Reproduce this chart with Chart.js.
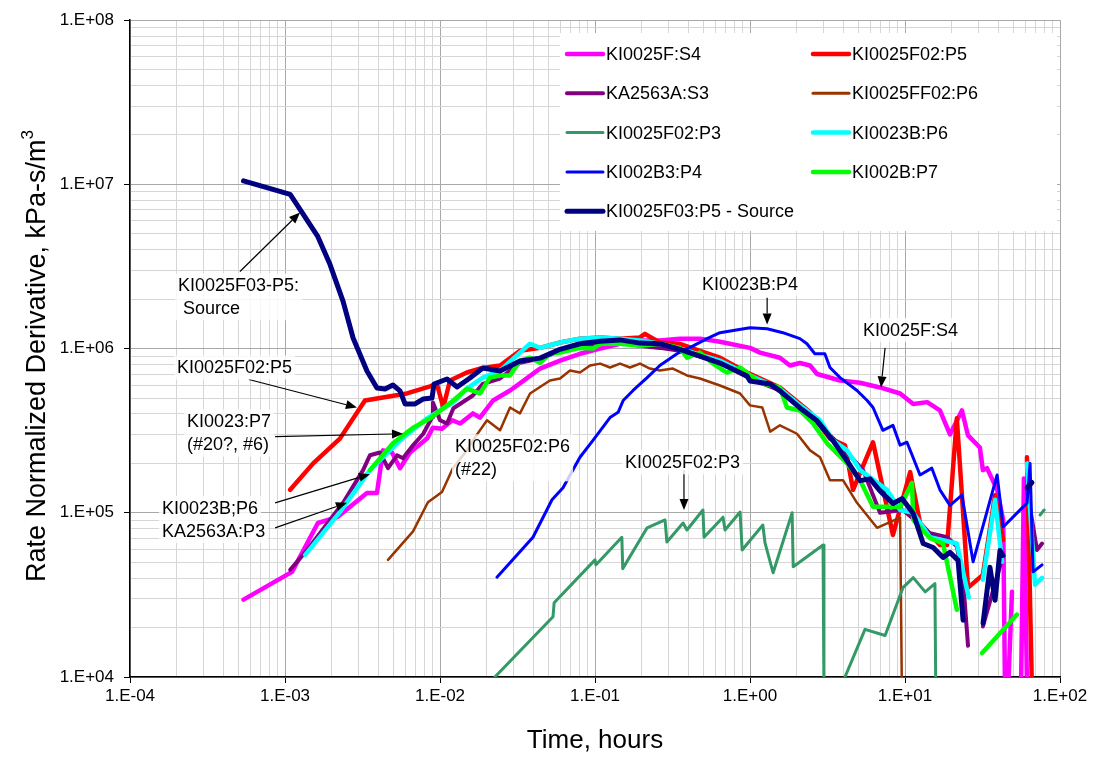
<!DOCTYPE html>
<html>
<head>
<meta charset="utf-8">
<script src="https://cdn.jsdelivr.net/npm/chart.js@4/dist/chart.umd.min.js"></script>
<style>
  html, body { margin: 0; background: #fff; }
  #wrap { width: 1096px; height: 758px; }
</style>
</head>
<body>
<div id="wrap"><canvas id="chart" width="1096" height="758"></canvas></div>
<script>
// series names, in legend order
const seriesNames = ['KI0025F:S4', 'KI0025F02:P5', 'KA2563A:S3', 'KI0025FF02:P6', 'KI0025F02:P3',
  'KI0023B:P6', 'KI002B3:P4', 'KI002B:P7', 'KI0025F03:P5 - Source'];

// tick labels (decades only)
const xTickLabels = ['1.E-04', '1.E-03', '1.E-02', '1.E-01', '1.E+00', '1.E+01', '1.E+02'];
const yTickLabels = ['1.E+04', '1.E+05', '1.E+06', '1.E+07', '1.E+08'];

// [time (hours), rate normalized derivative], null = break in the line
const s4 = [[5.4e-4,2.96e4],[1.11e-3,4.37e4],[1.63e-3,8.67e4],[2.17e-3,9.4e4],[3.38e-3,1.32e5],[3.92e-3,1.32e5],
  [4.29e-3,2.4e5],[4.9e-3,2.33e5],[5.52e-3,1.87e5],[6.41e-3,2.33e5],[8.25e-3,2.83e5],[9.0e-3,3.3e5],[1.03e-2,3.25e5],
  [1.2e-2,3.66e5],[1.35e-2,3.5e5],[1.63e-2,4.03e5],[1.81e-2,3.8e5],[2.2e-2,4.83e5],[2.83e-2,5.56e5],[3.28e-2,6.14e5],
  [4.42e-2,7.56e5],[5.95e-2,8.45e5],[8.0e-2,9.3e5],[0.108,1.0e6],[0.145,1.07e6],[0.195,1.12e6],[0.262,1.12e6],
  [0.353,1.15e6],[0.475,1.15e6],[0.64,1.1e6],[1.0,1.01e6],[1.16,9.45e5],[1.56,8.8e5],[1.81,7.89e5],[2.1,8.17e5],
  [2.44,7.89e5],[2.71,7.0e5],[3.81,6.39e5],[5.12,6.2e5],[6.9,5.8e5],[9.3,5.33e5],[11.3,4.6e5],[13.9,4.72e5],
  [16.8,4.2e5],[19.5,3.0e5],[23.3,4.2e5],[25.5,2.96e5],[30.4,2.5e5],[31.8,1.82e5],[33.8,1.87e5],[39.3,1.38e5],
  [43,9.0e4],[44.2,8e3],[45,null],[46.2,8e3],[49,3.3e4],[52,null],[56,8e3],[58.5,1.62e5],[61.3,8e3]];

const p5 = [[1.08e-3,1.38e5],[1.52e-3,2.0e5],[2.26e-3,2.83e5],[3.28e-3,4.83e5],[6.12e-3,5.33e5],[8.63e-3,5.88e5],
  [9.55e-3,6.09e5],[1.05e-2,4.38e5],[1.16e-2,6.39e5],[1.49e-2,7.15e5],[1.81e-2,7.56e5],[2.44e-2,7.89e5],[3.28e-2,9.7e5],
  [4.42e-2,1.01e6],[5.95e-2,1.09e6],[8.0e-2,1.15e6],[0.108,1.17e6],[0.145,1.15e6],[0.195,1.17e6],[0.21,1.23e6],
  [0.262,1.09e6],[0.353,1.07e6],[0.475,9.7e5],[0.64,8.8e5],[0.957,7.15e5],[1.56,5.8e5],[2.44,4.09e5],[3.28,2.83e5],
  [4.1,2.58e5],[4.62,1.38e5],[6.22,2.69e5],[8.36,7.33e4],[10.8,1.77e5],[12.5,8.67e4],[16.8,6.37e4],[18.7,6.37e4],
  [21.6,3.76e5],[25.5,3.5e4],[31.8,4.19e4],[38.1,1.28e5],[43.0,6.84e4],[50,null],[61.2,2.18e5],[66,8e3]];

const s3 = [[1.08e-3,4.5e4],[1.39e-3,5.94e4],[2.37e-3,1.15e5],[3.19e-3,1.82e5],[3.53e-3,2.24e5],[4.1e-3,2.33e5],
  [4.62e-3,1.87e5],[5.28e-3,2.24e5],[5.77e-3,2.15e5],[6.7e-3,2.58e5],[7.8e-3,3.03e5],[8.88e-3,3.8e5],[9.0e-3,4.7e5],
  [1.0e-2,3.66e5],[1.11e-2,3.5e5],[1.22e-2,4.33e5],[1.63e-2,5.18e5],[1.89e-2,6.1e5],[2.44e-2,6.57e5],[3.28e-2,8.2e5],
  [4.42e-2,8.7e5],[5.95e-2,9.7e5],[8.0e-2,1.03e6],[0.108,1.07e6],[0.145,1.09e6],[0.195,1.04e6],[0.262,1.01e6],
  [0.353,9.7e5],[0.475,8.95e5],[0.64,8.2e5],[1.0,6.57e5],[1.56,5.56e5],[2.1,4.38e5],[2.83,3.41e5],[3.81,2.58e5],
  [5.36,1.82e5],[6.9,1.0e5],[9.7,1.04e5],[14.5,7.5e4],[18.7,7.1e4],[21.6,6.26e4],[23.7,3.91e4],[25.5,1.55e4],
  [28,null],[31.8,2.03e4],[43,5.54e4],[50,null],[61.3,1.38e5],[71,5.94e4],[76.6,6.5e4]];

const p6 = [[4.62e-3,5.17e4],[6.7e-3,7.7e4],[8.36e-3,1.16e5],[1.03e-2,1.34e5],[1.21e-2,1.87e5],[1.49e-2,2.4e5],
  [1.63e-2,2.76e5],[2.01e-2,3.66e5],[2.44e-2,3.18e5],[2.83e-2,4.38e5],[3.28e-2,4.03e5],[3.81e-2,5.33e5],[5.12e-2,6.39e5],
  [5.95e-2,6.57e5],[6.9e-2,7.35e5],[8.0e-2,7.15e5],[9.3e-2,7.89e5],[0.108,8.1e5],[0.125,7.67e5],[0.145,8.1e5],
  [0.168,7.67e5],[0.195,8.1e5],[0.226,7.56e5],[0.262,7.35e5],[0.318,7.56e5],[0.392,6.86e5],[0.475,6.57e5],
  [0.64,5.96e5],[0.863,5.33e5],[1.0,4.51e5],[1.2,4.38e5],[1.35,3.12e5],[1.56,3.41e5],[2.01,3.03e5],[2.44,2.4e5],
  [2.83,2.18e5],[3.28,1.58e5],[3.98,1.58e5],[4.9,1.15e5],[6.6,8.1e4],[9.3,9.35e4],[9.55,8e3]];

const p3 = [[2.26e-2,1.0e4],[5.36e-2,2.33e4],[5.45e-2,2.83e4],[0.1,5.17e4],[0.1015,4.82e4],[0.149,7.1e4],
  [0.151,4.57e4],[0.217,8.1e4],[0.283,9.04e4],[0.291,6.64e4],[0.37,8.67e4],[0.392,7.86e4],[0.497,1.04e5],
  [0.505,7.1e4],[0.67,9.4e4],[0.69,7.86e4],[0.863,1.01e5],[0.89,5.94e4],[1.21,8.43e4],[1.25,6.55e4],[1.41,4.31e4],
  [1.87,1.0e5],[1.9,4.69e4],[2.96,6.37e4],[3.0,8e3],[3.5,null],[4.1,1.0e4],[5.52,1.95e4],[7.44,1.79e4],
  [9.7,3.5e4],[11.3,4.03e4],[13.5,3.3e4],[15.6,3.7e4],[15.8,8e3],[40,null],[74.4,9.7e4],[79,1.04e5]];

const b6 = [[1.35e-3,5.54e4],[2.26e-3,1.01e5],[3.53e-3,1.82e5],[5.52e-3,2.76e5],[8.25e-3,3.76e5],[1.22e-2,4.7e5],
  [1.49e-2,5.7e5],[1.89e-2,6.66e5],[2.44e-2,7.35e5],[3.28e-2,9.45e5],[3.81e-2,1.07e6],[4.42e-2,1.01e6],[5.95e-2,1.09e6],
  [8.0e-2,1.15e6],[0.108,1.17e6],[0.145,1.15e6],[0.195,1.12e6],[0.262,1.07e6],[0.353,1.0e6],[0.475,9.2e5],
  [0.64,8.45e5],[1.0,6.86e5],[1.56,5.7e5],[2.1,4.51e5],[2.83,3.66e5],[3.43,2.76e5],[4.23,2.4e5],[5.13,1.82e5],
  [7.65,1.38e5],[9.3,1.04e5],[11.3,1.0e5],[14.5,7.1e4],[21.6,6.5e4],[25.8,3.05e4],[28,null],[31.8,3.91e4],
  [38.1,1.2e5],[42.3,5.03e4],[50,null],[61.3,2.0e5],[69,3.65e4],[76.6,4.02e4]];

const p4 = [[2.33e-2,4.05e4],[3.98e-2,7.1e4],[5.28e-2,1.2e5],[6.22e-2,1.42e5],[8.0e-2,2.18e5],[9.7e-2,2.76e5],
  [0.125,3.8e5],[0.141,4.09e5],[0.152,4.83e5],[0.176,5.56e5],[0.217,6.66e5],[0.262,7.89e5],[0.338,9.3e5],
  [0.43,1.04e6],[0.528,1.15e6],[0.64,1.25e6],[0.78,1.29e6],[1.0,1.34e6],[1.29,1.32e6],[1.63,1.25e6],[2.1,1.15e6],
  [2.33,1.07e6],[2.62,9.3e5],[3.04,9.3e5],[3.28,7.67e5],[3.81,6.66e5],[4.9,5.56e5],[5.7,4.83e5],[6.22,4.38e5],
  [7.2,3.18e5],[8.36,3.41e5],[9.3,2.58e5],[10.3,2.69e5],[12.5,1.7e5],[14.9,1.87e5],[16.8,1.38e5],[19.5,1.11e5],
  [23.3,1.28e5],[27.5,5.03e4],[39.3,1.7e5],[43,8.2e4],[61.3,1.15e5],[64.1,2.0e5],[67,4.37e4],[76.6,4.82e4]];

const p7 = [[3.53e-3,1.82e5],[4.97e-3,2.65e5],[6.7e-3,3.3e5],[8.63e-3,3.76e5],[1.22e-2,4.83e5],[1.49e-2,5.7e5],
  [1.81e-2,5.33e5],[2.1e-2,6.66e5],[2.44e-2,6.86e5],[2.83e-2,6.86e5],[3.28e-2,8.45e5],[3.81e-2,8.8e5],[4.42e-2,8.2e5],
  [5.12e-2,9.3e5],[5.95e-2,9.45e5],[8.0e-2,1.01e6],[9.7e-2,1.0e6],[0.108,1.07e6],[0.145,1.07e6],[0.195,1.04e6],
  [0.262,1.07e6],[0.353,1.01e6],[0.392,8.8e5],[0.475,9.45e5],[0.577,8.1e5],[0.71,7.15e5],[0.863,7.67e5],
  [1.16,6.2e5],[1.56,5.8e5],[1.73,4.38e5],[2.1,4.2e5],[2.55,3.5e5],[3.14,2.65e5],[4.23,2.0e5],[5.13,1.58e5],
  [6.22,1.09e5],[9.3,1.09e5],[11.1,1.52e5],[11.3,9.04e4],[14.5,7.0e4],[17.6,6.5e4],[21.6,2.57e4],[26,null],
  [31.4,1.4e4],[52.8,2.4e4]];

const source = [[5.4e-4,1.05e7],[1.08e-3,8.7e6],[1.63e-3,4.8e6],[1.95e-3,3.26e6],[2.37e-3,1.94e6],[2.75e-3,1.16e6],
  [3.38e-3,7.3e5],[3.92e-3,5.75e5],[4.42e-3,5.67e5],[4.97e-3,6.0e5],[5.52e-3,5.53e5],[5.95e-3,4.6e5],[6.9e-3,4.6e5],
  [7.77e-3,4.93e5],[8.88e-3,5.0e5],[9.15e-3,6.09e5],[1.11e-2,6.53e5],[1.29e-2,5.84e5],[1.56e-2,6.62e5],
  [1.89e-2,7.62e5],[2.44e-2,7.3e5],[3.28e-2,8.4e5],[4.42e-2,8.75e5],[5.95e-2,9.9e5],[8.0e-2,1.07e6],[0.108,1.11e6],
  [0.145,1.13e6],[0.195,1.08e6],[0.262,1.07e6],[0.353,9.9e5],[0.475,9.0e5],[0.64,8.17e5],[0.957,6.81e5],
  [1.0,6.35e5],[1.35,6.09e5],[1.56,5.53e5],[2.1,4.35e5],[2.71,3.63e5],[3.43,2.75e5],[4.23,2.07e5],[5.13,1.57e5],
  [5.95,1.61e5],[6.9,1.36e5],[8.37,1.14e5],[9.57,1.22e5],[11.3,9.9e4],[13.1,6.5e4],[15.2,6.15e4],[17.6,5.35e4],
  [19.5,5.74e4],[22.0,5.13e4],[23.7,2.22e4],[28,null],[31.9,2.13e4],[35.3,4.66e4],[38.1,2.93e4],[41.0,5.9e4],
  [42.9,5.5e4],[50,null],[61.3,1.42e5],[65.9,1.53e5]];

const seriesData = [s4, p5, s3, p6, p3, b6, p4, p7, source];

// text labels with arrows, all in data units
const notes = [
  { text: ['KI0025F03-P5:', ' Source'], at: [2.04e-4, 2.43e6], tail: [5.12e-4, 2.95e6], tip: [1.25e-3, 6.74e6] },
  { text: ['KI0025F02:P5'], at: [2.01e-4, 7.67e5], tail: [5.85e-4, 6.48e5], tip: [2.91e-3, 4.38e5] },
  { text: ['KI0023:P7', '(#20?, #6)'], at: [2.33e-4, 3.6e5], tail: [8.63e-4, 2.91e5], tip: [5.77e-3, 3.03e5] },
  { text: ['KI0023B;P6'], at: [1.61e-4, 1.07e5], tail: [8.63e-4, 1.15e5], tip: [3.53e-3, 1.72e5] },
  { text: ['KA2563A:P3'], at: [1.61e-4, 7.74e4], tail: [8.63e-4, 8.1e4], tip: [2.51e-3, 1.15e5] },
  { text: ['KI0025F02:P6', '(#22)'], at: [1.25e-2, 2.54e5] },
  { text: ['KI0023B:P4'], at: [0.49, 2.48e6], tail: [1.29, 2.04e6], tip: [1.29, 1.4e6] },
  { text: ['KI0025F:S4'], at: [5.36, 1.3e6], tail: [7.44, 1.01e6], tip: [7.0, 5.8e5] },
  { text: ['KI0025F02:P3'], at: [0.156, 2.03e5], tail: [0.375, 1.82e5], tip: [0.375, 1.04e5] }
];

const lineStyles = [
  { color: '#FF00FF', width: 4.5 },
  { color: '#FF0000', width: 4.5 },
  { color: '#800080', width: 4 },
  { color: '#993300', width: 2.5 },
  { color: '#339966', width: 3 },
  { color: '#00FFFF', width: 4.5 },
  { color: '#0000FF', width: 3 },
  { color: '#00FF00', width: 4.5 },
  { color: '#000080', width: 5 }
];

const FONT = "'Liberation Sans', Arial, sans-serif";
Chart.defaults.font.family = FONT;
Chart.defaults.color = '#000';

function isDecade(v) {
  const l = Math.log10(v);
  return Math.abs(l - Math.round(l)) < 1e-6;
}

function logTicks(lo, hi) {
  return scale => {
    const t = [];
    for (let e = lo; e < hi; e++) {
      for (let m = 1; m < 10; m++) t.push({ value: m * Math.pow(10, e) });
    }
    t.push({ value: Math.pow(10, hi) });
    scale.ticks = t;
  };
}

function gridOpts() {
  return {
    color: c => (c.tick && isDecade(c.tick.value)) ? '#a8a8a8' : '#d6d6d6',
    tickColor: c => (c.tick && isDecade(c.tick.value)) ? '#000' : 'rgba(0,0,0,0)',
    tickLength: 6,
    lineWidth: 1
  };
}

function drawArrow(ctx, x1, y1, x2, y2) {
  const a = Math.atan2(y2 - y1, x2 - x1);
  const len = 11, hw = 4.5;
  const bx = x2 - Math.cos(a) * len, by = y2 - Math.sin(a) * len;
  ctx.beginPath();
  ctx.moveTo(x1, y1);
  ctx.lineTo(bx, by);
  ctx.stroke();
  ctx.beginPath();
  ctx.moveTo(x2, y2);
  ctx.lineTo(bx - Math.sin(a) * hw, by + Math.cos(a) * hw);
  ctx.lineTo(bx + Math.sin(a) * hw, by - Math.cos(a) * hw);
  ctx.closePath();
  ctx.fill();
}

const overlay = {
  id: 'overlay',
  afterDraw(chart) {
    const { ctx, scales: { x, y } } = chart;
    ctx.save();

    // legend box inside the plot
    ctx.fillStyle = '#fff';
    ctx.fillRect(560, 33, 497, 198);
    ctx.font = '18px ' + FONT;
    ctx.textBaseline = 'middle';
    ctx.textAlign = 'left';
    seriesNames.forEach((name, i) => {
      const col = i % 2, row = Math.floor(i / 2);
      const lx = col === 0 ? 567 : 813;
      const ly = 54 + row * 39.3;
      ctx.strokeStyle = lineStyles[i].color;
      ctx.lineWidth = Math.max(3, lineStyles[i].width);
      ctx.lineCap = 'round';
      ctx.beginPath();
      ctx.moveTo(lx, ly);
      ctx.lineTo(lx + 36, ly);
      ctx.stroke();
      ctx.fillStyle = '#000';
      ctx.fillText(name, lx + 39, ly + 1);
    });

    // annotations
    ctx.lineCap = 'butt';
    ctx.lineWidth = 1.2;
    ctx.strokeStyle = '#000';
    notes.forEach(n => {
      if (n.tail) {
        ctx.fillStyle = '#000';
        drawArrow(ctx, x.getPixelForValue(n.tail[0]), y.getPixelForValue(n.tail[1]),
          x.getPixelForValue(n.tip[0]), y.getPixelForValue(n.tip[1]));
      }
      const px = x.getPixelForValue(n.at[0]);
      const py = y.getPixelForValue(n.at[1]);
      const w = Math.max(...n.text.map(t => ctx.measureText(t).width));
      ctx.fillStyle = 'rgba(255,255,255,0.8)';
      ctx.fillRect(px - 3, py - 12, w + 6, 24 + (n.text.length - 1) * 23);
      ctx.fillStyle = '#000';
      n.text.forEach((t, k) => ctx.fillText(t, px, py + 1 + k * 23));
    });

    // axis titles
    ctx.font = '26px ' + FONT;
    ctx.textAlign = 'center';
    ctx.fillText('Time, hours', 595, 741);

    ctx.translate(38, 356);
    ctx.rotate(-Math.PI / 2);
    const main = 'Rate Normalized Derivative, kPa-s/m';
    ctx.font = '27px ' + FONT;
    const mw = ctx.measureText(main).width;
    ctx.font = '17px ' + FONT;
    const sw = ctx.measureText('3').width;
    const start = -(mw + sw) / 2;
    ctx.textAlign = 'left';
    ctx.font = '27px ' + FONT;
    ctx.fillText(main, start, 0);
    ctx.font = '17px ' + FONT;
    ctx.fillText('3', start + mw, -10);
    ctx.restore();
  }
};

new Chart(document.getElementById('chart'), {
  type: 'line',
  data: {
    datasets: seriesData.map((d, i) => ({
      label: seriesNames[i],
      data: d.map(p => ({ x: p[0], y: p[1] })),
      borderColor: lineStyles[i].color,
      borderWidth: lineStyles[i].width,
      pointRadius: 0,
      tension: 0,
      fill: false,
      spanGaps: false,
      borderJoinStyle: 'round',
      borderCapStyle: 'round',
      clip: 0,
      order: seriesData.length - 1 - i
    }))
  },
  options: {
    responsive: false,
    animation: false,
    devicePixelRatio: 1,
    layout: { padding: { top: 18, right: 36, left: 0, bottom: 0 } },
    plugins: { legend: { display: false }, tooltip: { enabled: false } },
    events: [],
    scales: {
      x: {
        type: 'logarithmic',
        min: 1e-4,
        max: 1e2,
        afterBuildTicks: logTicks(-4, 2),
        afterFit: s => { s.height = 81; },
        grid: gridOpts(),
        border: { color: '#000', width: 1.5 },
        ticks: {
          autoSkip: false, maxRotation: 0, minRotation: 0, padding: 3,
          font: { size: 17 },
          callback: v => isDecade(v) ? xTickLabels[Math.round(Math.log10(v)) + 4] : ''
        }
      },
      y: {
        type: 'logarithmic',
        min: 1e4,
        max: 1e8,
        afterBuildTicks: logTicks(4, 8),
        afterFit: s => { s.width = 130; },
        grid: gridOpts(),
        border: { color: '#000', width: 1.5 },
        ticks: {
          autoSkip: false, padding: 10,
          font: { size: 17 },
          callback: v => isDecade(v) ? yTickLabels[Math.round(Math.log10(v)) - 4] : ''
        }
      }
    }
  },
  plugins: [overlay]
});
</script>
</body>
</html>
